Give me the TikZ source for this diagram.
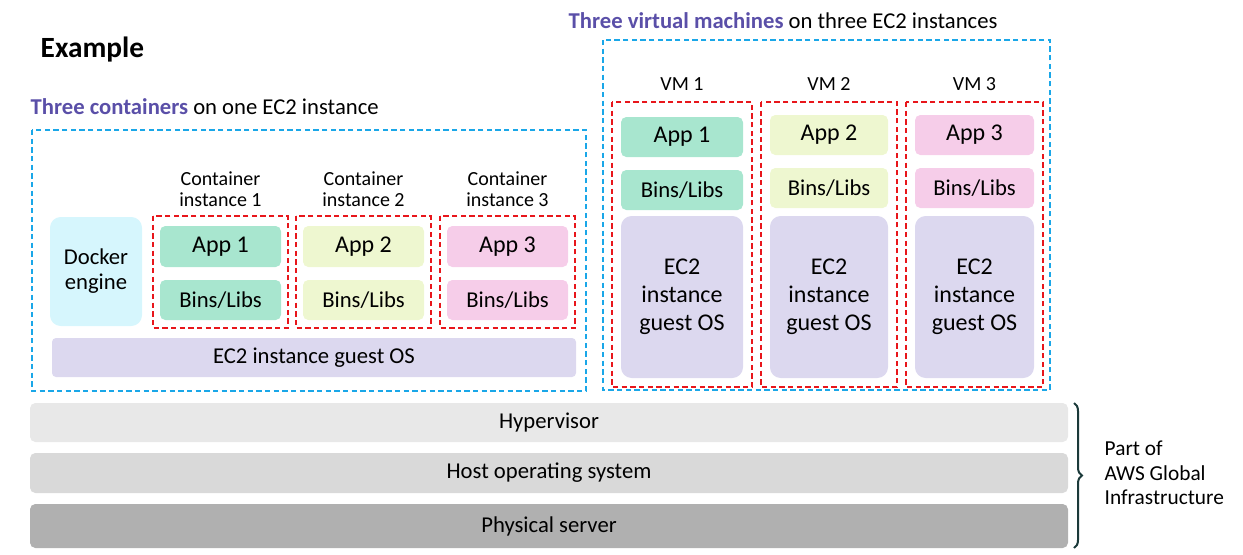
\documentclass[tikz,border=0pt]{standalone}
\usepackage{fontspec}
\setmainfont{Carlito}
\usetikzlibrary{decorations.pathreplacing}
\definecolor{purp}{HTML}{5A4FA8}
\definecolor{bluedash}{HTML}{1AA7E8}
\definecolor{reddash}{HTML}{E8161B}
\definecolor{appA}{HTML}{A8E6CF}
\definecolor{appB}{HTML}{EEF7D0}
\definecolor{appC}{HTML}{F6CDE9}
\definecolor{os}{HTML}{DCD8EF}
\definecolor{dock}{HTML}{D6F6FD}
\definecolor{brc}{HTML}{1B3A3A}
\begin{document}
\begin{tikzpicture}[x=0.75pt,y=-0.75pt,
  box/.style={rounded corners=4pt,draw=none,font=\fontsize{17}{19}\selectfont,align=center},
  bdash/.style={draw=bluedash,dash pattern=on 4pt off 2.5pt,line width=1.3pt},
  rdash/.style={draw=reddash,dash pattern=on 4pt off 2.5pt,line width=1.3pt},
  lab/.style={font=\fontsize{15}{16}\selectfont,align=center},
  bar/.style={rounded corners=4pt,draw=none}]
\useasboundingbox (0,0) rectangle (1243,554);
\node[anchor=west,font=\fontsize{22}{24}\selectfont\bfseries] (ex) at (36,50) {Example};
\node[anchor=west,font=\fontsize{17}{19}\selectfont] (t1) at (26,107) {\textcolor{purp}{\bfseries Three containers} on one EC2 instance};
\node[anchor=west,font=\fontsize{17}{19}\selectfont] (t2) at (564,21) {\textcolor{purp}{\bfseries Three virtual machines} on three EC2 instances};
\draw[bdash] (32,130) rectangle (586,391);
\draw[bdash] (603,40) rectangle (1050,390);
% containers
\fill[dock,rounded corners=8pt] (50,217) rectangle (142,326);
\node[box] (de) at (96,271) {Docker\\engine};
\foreach \x/\c/\n in {153/appA/1,296/appB/2,440/appC/3}{
  \draw[rdash] (\x,216) rectangle ++(135,112);
  \fill[\c,rounded corners=4pt] (\x+7,226) rectangle ++(121,41);
  \node[box,font=\fontsize{18}{20}\selectfont] (ca\n) at (\x+67.5,246.5) {App \n};
  \fill[\c,rounded corners=4pt] (\x+7,280) rectangle ++(121,40);
  \node[box] (cb\n) at (\x+67.5,300) {Bins/Libs};
  \node[lab] (cl\n) at (\x+67.5,189) {Container\\instance \n};
}
\fill[os,rounded corners=3pt] (52,338) rectangle (576,377);
\node[box] (gos) at (314,357.5) {EC2 instance guest OS};
% VMs
\foreach \x/\w/\c/\n/\ay in {612/140/appA/1/117,761/136/appB/2/115,906/137/appC/3/115}{
  \draw[rdash] (\x,102) rectangle ++(\w,285);
  \fill[\c,rounded corners=4pt] (\x+9,\ay) rectangle (\x+\w-9,\ay+40);
  \node[box,font=\fontsize{18}{20}\selectfont] (va\n) at (\x+\w/2,\ay+20) {App \n};
  \fill[\c,rounded corners=4pt] (\x+9,\ay+53) rectangle (\x+\w-9,\ay+93);
  \node[box] (vb\n) at (\x+\w/2,\ay+73) {Bins/Libs};
  \fill[os,rounded corners=8pt] (\x+9,216) rectangle (\x+\w-9,378);
  \node[box,font=\fontsize{18}{21}\selectfont] (vo\n) at (\x+\w/2,297) {EC2\\instance\\guest OS};
  \node[lab] (vl\n) at (\x+\w/2,84) {VM \n};
}
% bars
\fill[gray!18] [rounded corners=4pt] (30,403) rectangle (1068,442);
\node[box] (hv) at (549,422.5) {Hypervisor};
\fill[gray!30] [rounded corners=4pt] (30,453) rectangle (1068,493);
\node[box] (ho) at (549,473) {Host operating system};
\fill[gray!62] [rounded corners=4pt] (30,504) rectangle (1068,548);
\node[box] (ps) at (549,526) {Physical server};
\coordinate (bt) at (1074,403);
\coordinate (bb) at (1074,548);
\draw[line width=1.5pt,color=brc,decorate,decoration={brace,amplitude=6pt}] (bt) -- (bb);
\node[anchor=west,align=left,font=\fontsize{16}{18.5}\selectfont] (aws) at (1100,473) {Part of\\AWS Global\\Infrastructure};
\end{tikzpicture}
\end{document}
